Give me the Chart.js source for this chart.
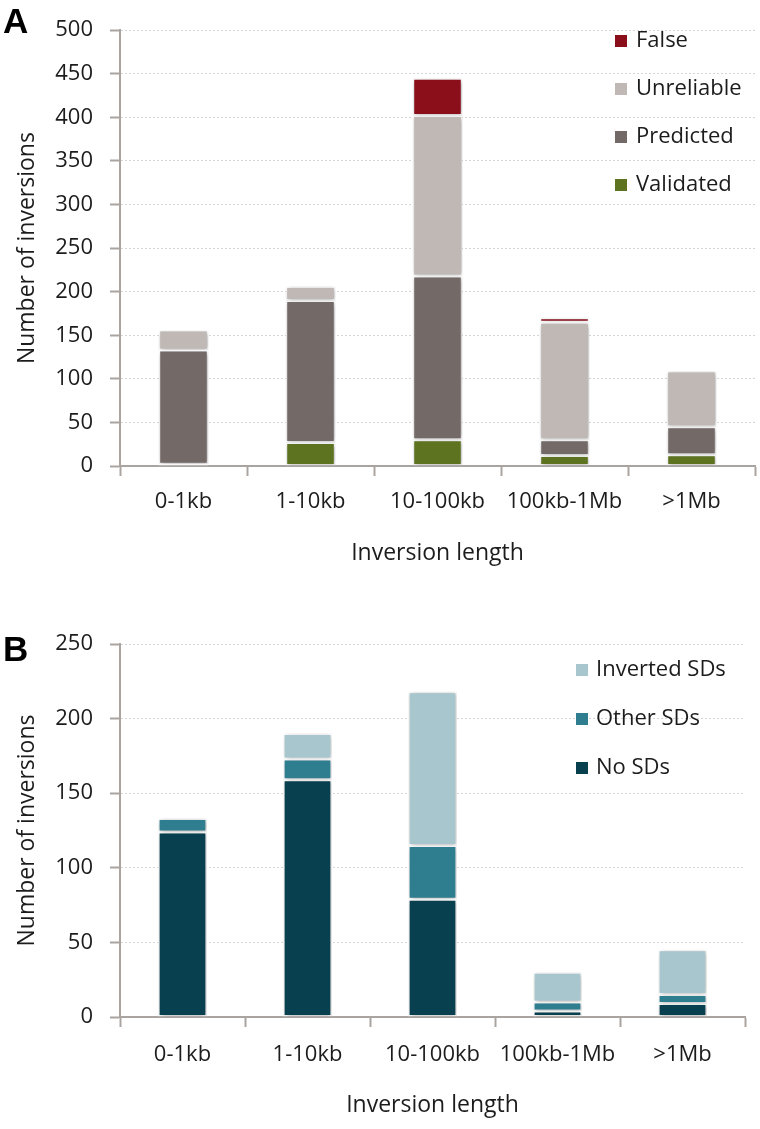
<!DOCTYPE html>
<html>
<head>
<meta charset="utf-8">
<script src="https://cdn.jsdelivr.net/npm/chart.js@4"></script>
<style>
  body { margin: 0; background: #fff; }
  .panel { position: absolute; left: 0; width: 760px; }
  .letter { position: absolute; left: 3px; font: bold 35px/35px "Liberation Sans", Arial, sans-serif; color: #000; }
</style>
</head>
<body>
<div class="panel" style="top:0;height:568px"><canvas id="chartA" width="760" height="568"></canvas></div>
<div class="panel" style="top:568px;height:561px"><canvas id="chartB" width="760" height="561"></canvas></div>
<div class="letter" style="top:3px">A</div>
<div class="letter" style="top:631px">B</div>
<script>
// categories
const lengths = ['0-1kb', '1-10kb', '10-100kb', '100kb-1Mb', '>1Mb'];

// panel A series (stacked bottom to top)
const validated = [2, 27, 30, 12, 13];
const predicted = [131, 163, 188, 18, 32];
const unreliable = [23, 16, 184, 135, 64];
const falseCalls = [0, 0, 43, 5, 0];

// panel B series (stacked bottom to top)
const noSDs = [124, 159, 79, 4, 9];
const otherSDs = [9, 14, 36, 6, 6];
const invertedSDs = [0, 17, 103, 20, 30];

const font = '"Open Sans", "Noto Sans", sans-serif';
const textColor = '#1c1c1c';
const axisGrey = '#aaa4a1';

// soft shadow behind the bars
const barShadow = {
  id: 'barShadow',
  beforeDatasetsDraw(chart) {
    const c = chart.ctx;
    c.save();
    c.shadowColor = 'rgba(0,0,0,0.32)';
    c.shadowBlur = 5;
    c.shadowOffsetX = 1;
    c.shadowOffsetY = 1;
  },
  afterDatasetsDraw(chart) {
    chart.ctx.restore();
  }
};

// legend drawn inside the plot, top series first
const boxLegend = {
  id: 'boxLegend',
  afterDraw(chart, args, opts) {
    const ctx = chart.ctx;
    const sets = chart.data.datasets;
    ctx.save();
    ctx.font = '22px ' + font;
    ctx.textBaseline = 'middle';
    for (let i = 0; i < sets.length; i++) {
      const ds = sets[sets.length - 1 - i];
      const y = opts.y + i * opts.gap;
      ctx.fillStyle = ds.backgroundColor;
      ctx.fillRect(opts.x, y - 6, 12, 12);
      ctx.fillStyle = textColor;
      ctx.fillText(ds.label, opts.x + opts.textGap, y);
    }
    ctx.restore();
  }
};

function bars(label, data, color) {
  return {
    label: label,
    data: data,
    backgroundColor: color,
    borderColor: '#ffffff',
    borderWidth: 1.5,
    borderSkipped: false,
    categoryPercentage: 1,
    barPercentage: 0.39
  };
}

function makeOptions(cfg) {
  return {
    responsive: false,
    animation: false,
    layout: { padding: { top: cfg.top, right: cfg.right, left: 0, bottom: 0 } },
    plugins: {
      legend: { display: false },
      tooltip: { enabled: false },
      boxLegend: cfg.legend
    },
    scales: {
      x: {
        stacked: true,
        offset: true,
        grid: { offset: true, drawOnChartArea: false, drawTicks: true, tickLength: 10, tickColor: axisGrey, tickWidth: 2 },
        border: { color: axisGrey, width: 2 },
        ticks: { font: { family: font, size: 22 }, color: textColor, padding: cfg.labelPad, maxRotation: 0, autoSkip: false },
        title: { display: true, text: 'Inversion length', font: { family: font, size: 23 }, color: textColor, padding: { top: 0, bottom: cfg.titlePad } },
        afterFit(s) { s.height = cfg.xHeight; }
      },
      y: {
        stacked: true,
        min: 0,
        max: cfg.max,
        ticks: { stepSize: 50, font: { family: font, size: 22 }, color: textColor, padding: 17 },
        grid: { color: '#d4d4d4', lineWidth: 1, drawTicks: true, tickLength: 10, tickColor: axisGrey, tickWidth: 2 },
        border: { color: axisGrey, width: 2, dash: [2, 2] },
        title: { display: true, text: 'Number of inversions', font: { family: font, size: 23 }, color: textColor, padding: { top: 14, bottom: 0 } },
        afterFit(s) { s.width = 120; }
      }
    }
  };
}

new Chart(document.getElementById('chartA'), {
  type: 'bar',
  data: {
    labels: lengths,
    datasets: [
      bars('Validated', validated, '#5e7320'),
      bars('Predicted', predicted, '#736a68'),
      bars('Unreliable', unreliable, '#bfb8b5'),
      bars('False', falseCalls, '#8a0f1b')
    ]
  },
  options: makeOptions({ top: 16, right: 5, max: 500, xHeight: 102, labelPad: 13, titlePad: 1,
    legend: { x: 615, y: 41, gap: 48, textGap: 21 } }),
  plugins: [barShadow, boxLegend]
});

new Chart(document.getElementById('chartB'), {
  type: 'bar',
  data: {
    labels: lengths,
    datasets: [
      bars('No SDs', noSDs, '#08404f'),
      bars('Other SDs', otherSDs, '#2e7e8f'),
      bars('Inverted SDs', invertedSDs, '#a8c6cd')
    ]
  },
  options: makeOptions({ top: 76, right: 15, max: 250, xHeight: 112, labelPad: 15, titlePad: 10,
    legend: { x: 576, y: 102, gap: 49, textGap: 20 } }),
  plugins: [barShadow, boxLegend]
});
</script>
</body>
</html>
